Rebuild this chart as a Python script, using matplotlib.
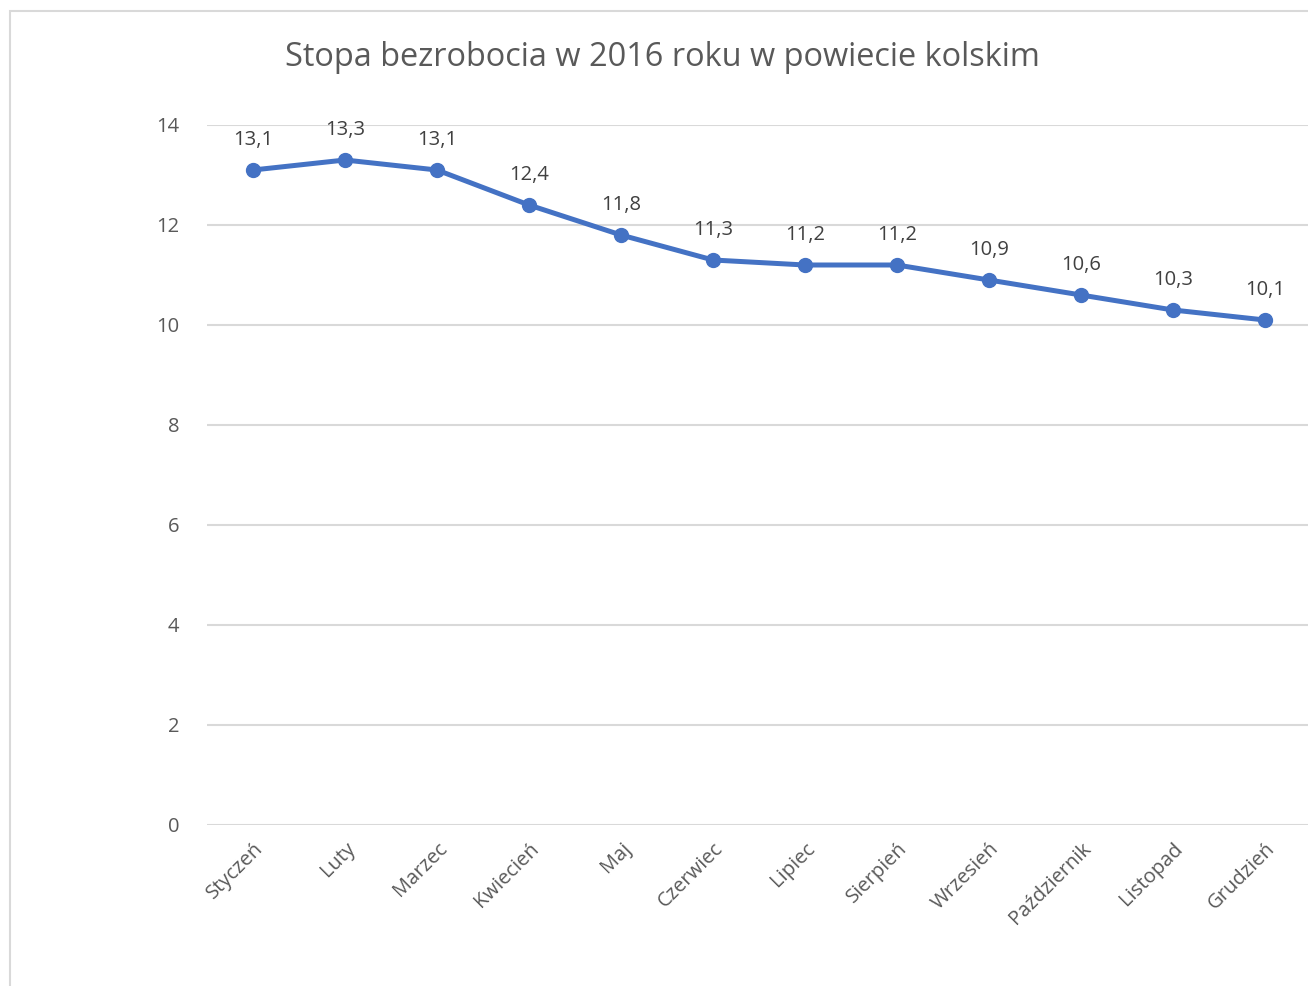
import matplotlib
matplotlib.use("Agg")
import matplotlib.pyplot as plt
from matplotlib.patches import Rectangle

months = ["Styczeń", "Luty", "Marzec", "Kwiecień", "Maj", "Czerwiec", "Lipiec",
          "Sierpień", "Wrzesień", "Październik", "Listopad", "Grudzień"]
rate = [13.1, 13.3, 13.1, 12.4, 11.8, 11.3, 11.2, 11.2, 10.9, 10.6, 10.3, 10.1]
yticks = [0, 2, 4, 6, 8, 10, 12, 14]
title = "Stopa bezrobocia w 2016 roku w powiecie kolskim"

plt.rcParams['font.family'] = ['Open Sans', 'DejaVu Sans']

W, H = 1308, 986
fig = plt.figure(figsize=(W / 100, H / 100), dpi=100)
fig.patch.set_facecolor("white")

# outer chart border
fig.patches.append(Rectangle((10 / W, -0.1), 1.2, (H - 11) / H + 0.1,
                             transform=fig.transFigure, fill=False,
                             edgecolor="#d9d9d9", linewidth=1.5))

left, right, top, bottom = 207, 1311, 125, 825
ax = fig.add_axes([left / W, (H - bottom) / H, (right - left) / W, (bottom - top) / H])
ax.set_facecolor("none")

x = list(range(len(months)))
ax.plot(x, rate, color="#4472C4", linewidth=3.6, marker="o", markersize=10,
        solid_capstyle="round", zorder=3, clip_on=False)
for xi, v in zip(x, rate):
    ax.annotate(f"{v:.1f}".replace(".", ","), (xi, v), xytext=(0, 20),
                textcoords="offset pixels", ha="center", va="bottom",
                fontsize=14.5, color="#404040")

ax.set_xlim(-0.5, len(months) - 0.5)
ax.set_ylim(0, 14)
ax.set_yticks(yticks)
ax.set_yticklabels([str(t) for t in yticks], fontsize=14.5, color="#595959")
ax.set_xticks(x)
ax.set_xticklabels(months, rotation=45, ha="right", rotation_mode="anchor",
                   fontsize=14.5, color="#595959")
ax.tick_params(axis="both", length=0)
ax.tick_params(axis="y", pad=20)
ax.tick_params(axis="x", pad=10)
ax.grid(axis="y", color="#d9d9d9", linewidth=1.5)
ax.set_axisbelow(True)
for s in ax.spines.values():
    s.set_visible(False)

fig.text(662 / W, (H - 57) / H, title, ha="center", va="center",
         fontsize=23.4, color="#595959")

fig.savefig("out.png", dpi=100)
